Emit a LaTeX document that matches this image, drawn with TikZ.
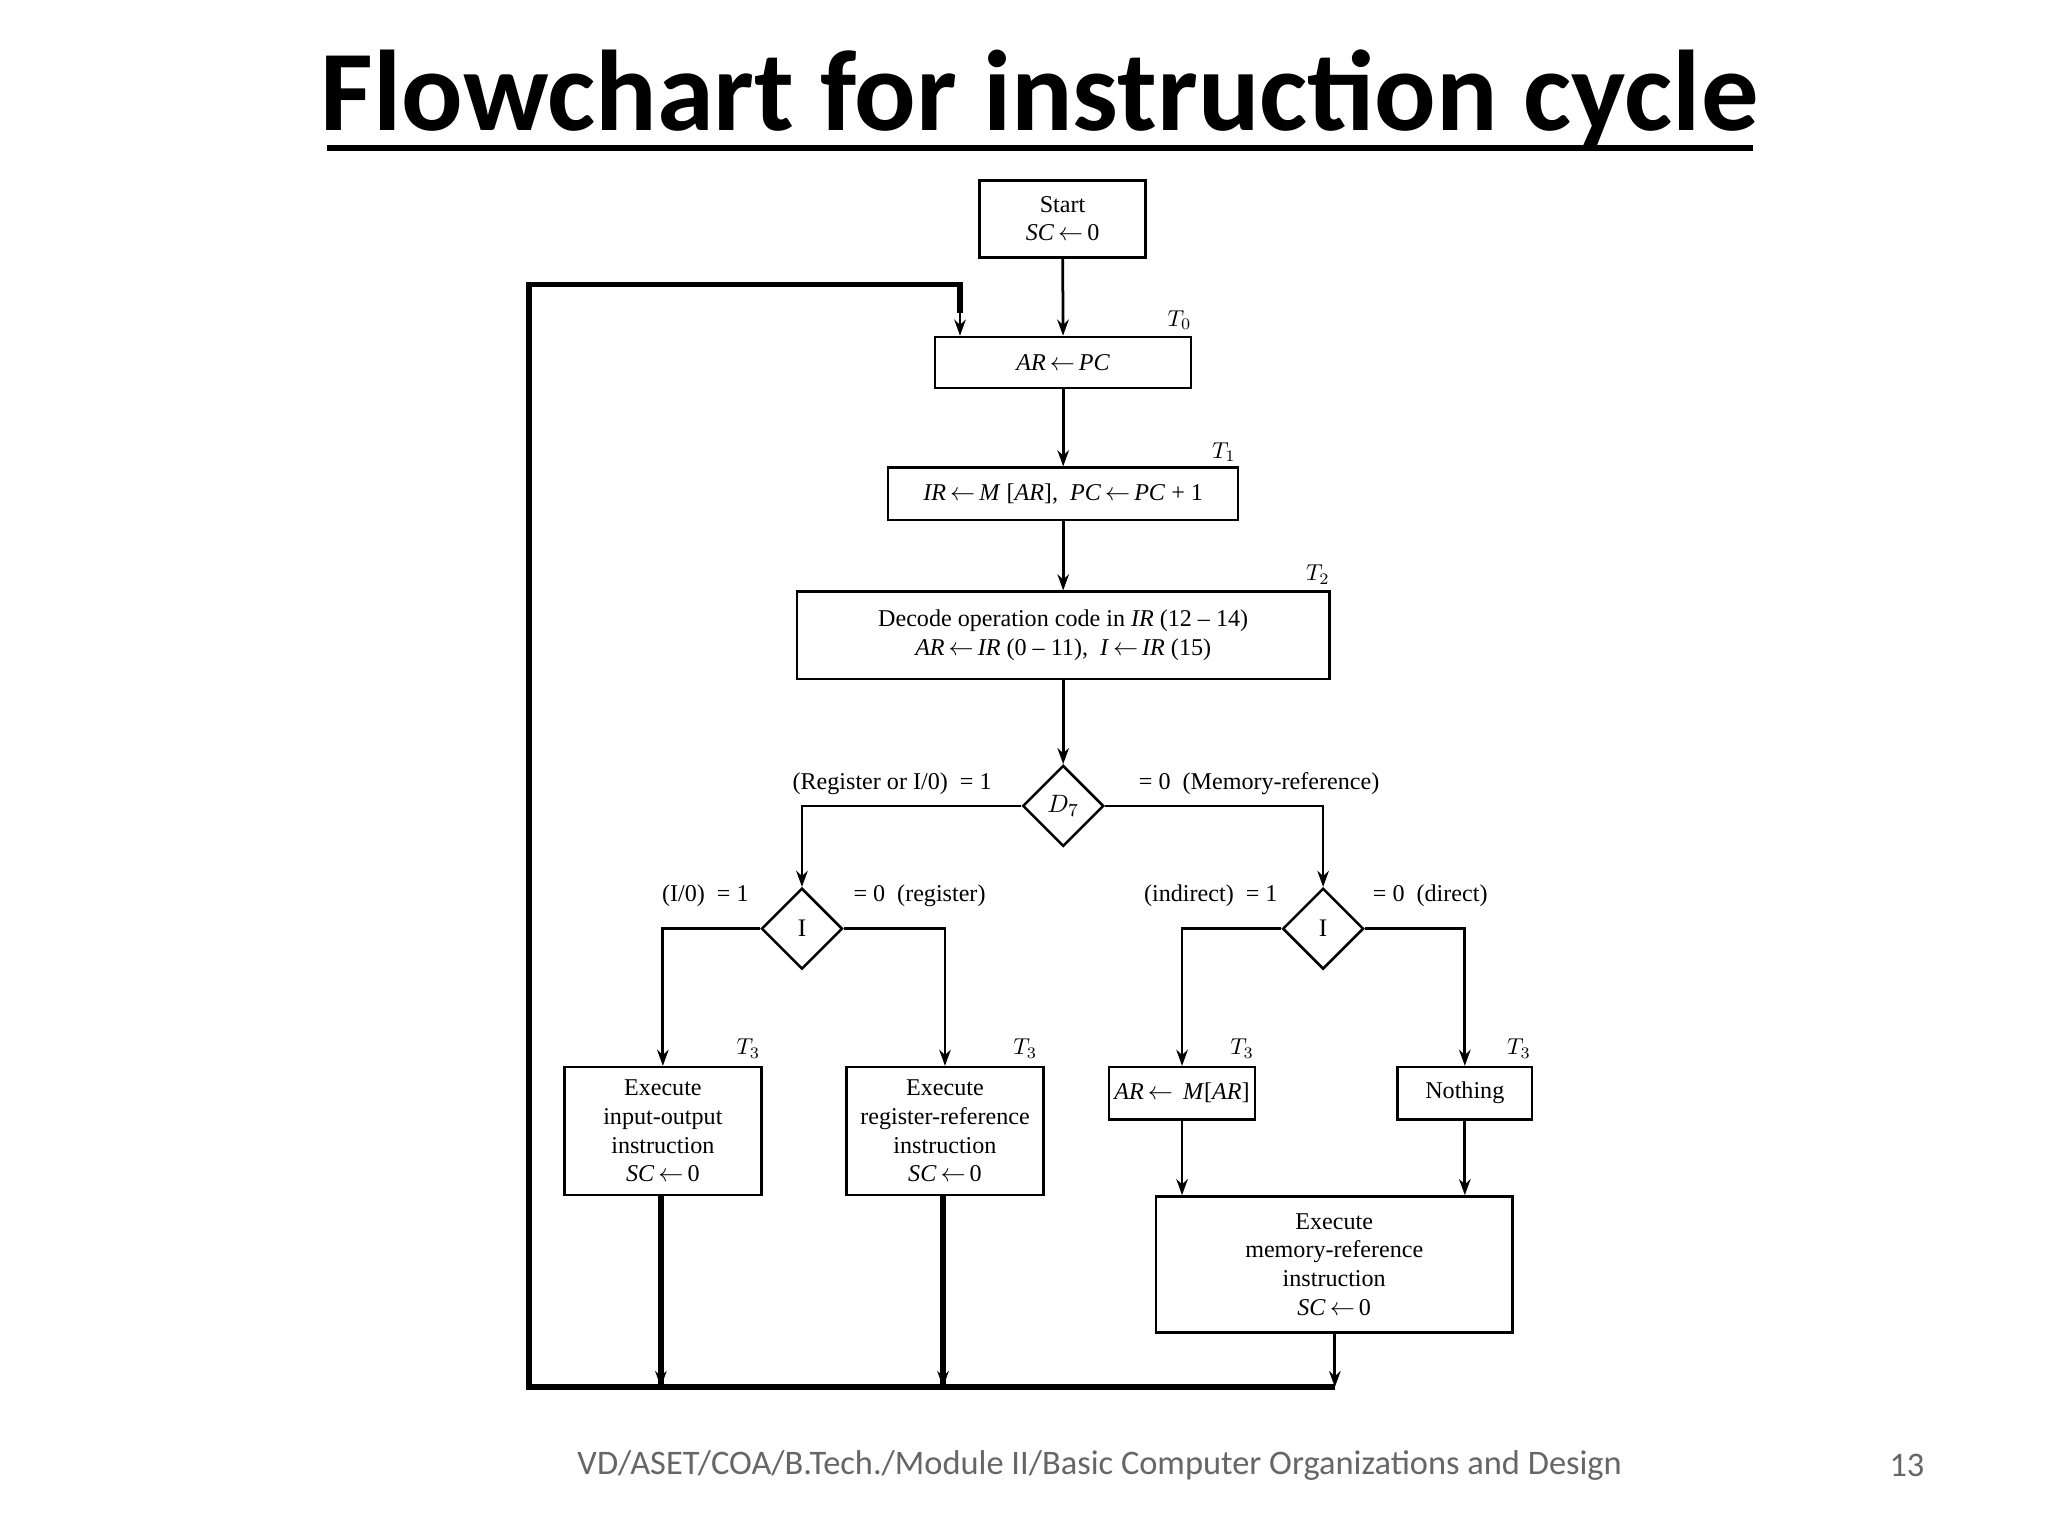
\documentclass[tikz,border=0pt]{standalone}
\usepackage{fontspec}
\setmainfont{Liberation Serif}
\newfontfamily\titlef{Carlito}
\usetikzlibrary{shapes.geometric,arrows.meta}
\newcommand\vr[1]{\textit{#1}}
\newcommand\la{\,$\leftarrow$\,}
\begin{document}
\begin{tikzpicture}[x=0.02cm,y=-0.02cm,
 box/.style={draw,line width=1.1pt,inner sep=0pt,align=center,font=\fontsize{10.5}{12.5}\selectfont},
 dia/.style={draw,line width=1.1pt,diamond,aspect=1,inner sep=0pt,minimum width=1.24cm,minimum height=1.24cm,font=\fontsize{11}{12}\selectfont},
 lab/.style={font=\fontsize{10.5}{12}\selectfont},
 tl/.style={font=\fontsize{10}{12}\selectfont\itshape},
 ar/.style={line width=1.2pt,-{Stealth[length=7pt,width=5pt]}},
 thk/.style={line width=2.4pt}]
\useasboundingbox (0,0) rectangle (1568,1176);
\node[font=\titlef\bfseries\fontsize{50}{54}\selectfont] (title) at (796,76) {Flowchart for instruction cycle};
\draw[line width=2.6pt] (250,113) -- (1342,113);
\node[box,minimum width=2.54cm,minimum height=1.18cm] (start) at (813.5,167.5) {Start\\ \vr{SC}\la 0};
\node[box,minimum width=3.92cm,minimum height=0.78cm] (ar) at (814,277.5) {\vr{AR}\la\vr{PC}};
\node[box,minimum width=5.36cm,minimum height=0.8cm] (ir) at (814,378) {\vr{IR}\la\vr{M} [\vr{AR}],\ \ \vr{PC}\la\vr{PC} + 1};
\node[box,minimum width=8.16cm,minimum height=1.34cm] (dec) at (814,486.5) {Decode operation code in \vr{IR} (12 -- 14)\\ \vr{AR}\la\vr{IR} (0 -- 11),\ \ \vr{I}\la\vr{IR} (15)};
\node[dia] (d7) at (814,617) {$D_7$};
\node[dia] (i1) at (614,711) {I};
\node[dia] (i2) at (1013,711) {I};
\node[box,minimum width=3.02cm,minimum height=1.96cm] (io) at (507.5,866) {Execute\\ input-output\\ instruction\\ \vr{SC}\la 0};
\node[box,minimum width=3.02cm,minimum height=1.96cm] (reg) at (723.5,866) {Execute\\ register-reference\\ instruction\\ \vr{SC}\la 0};
\node[box,minimum width=2.24cm,minimum height=0.8cm] (arm) at (905,837) {\vr{AR}\la\ \vr{M}[\vr{AR}]};
\node[box,minimum width=2.06cm,minimum height=0.8cm] (noth) at (1121.5,837) {Nothing};
\node[box,minimum width=5.46cm,minimum height=2.08cm] (mem) at (1021.5,968) {Execute\\ memory-reference\\ instruction\\ \vr{SC}\la 0};
\node[tl] (t0) at (903,245) {$T_0$};
\node[tl] (t1) at (937,346) {$T_1$};
\node[tl] (t2) at (1009,440) {$T_2$};
\node[tl] (t3a) at (573,803) {$T_3$};
\node[tl] (t3b) at (785,803) {$T_3$};
\node[tl] (t3c) at (951,803) {$T_3$};
\node[tl] (t3d) at (1163,803) {$T_3$};
\node[lab] (l1) at (683,600) {(Register or I/0)\ \ = 1};
\node[lab] (l2) at (964,600) {= 0\ \ (Memory-reference)};
\node[lab] (l3) at (540,686) {(I/0)\ \ = 1};
\node[lab] (l4) at (704,686) {= 0\ \ (register)};
\node[lab] (l5) at (927,686) {(indirect)\ \ = 1};
\node[lab] (l6) at (1095,686) {= 0\ \ (direct)};
\draw[ar] (start) -- (ar);
\draw[ar] (ar) -- (ir);
\draw[ar] (ir) -- (dec);
\draw[ar] (dec) -- (d7);
\draw[ar] (d7.west) -| (i1.north);
\draw[ar] (d7.east) -| (i2.north);
\draw[ar] (i1.west) -| (io.north);
\draw[ar] (i1.east) -| (reg.north);
\draw[ar] (i2.west) -| (arm.north);
\draw[ar] (i2.east) -| (noth.north);
\draw[ar] (arm.south) -- (arm.south |- mem.north);
\draw[ar] (noth.south) -- (noth.south |- mem.north);
\coordinate (bio) at (506,1062);
\coordinate (breg) at (722,1062);
\coordinate (bmem) at (1022,1062);
\coordinate (bl) at (405,1062);
\coordinate (tl) at (405,218);
\coordinate (tr) at (735,218);
\draw[thk] (io.south -| bio) -- (bio);
\draw[thk] (reg.south -| breg) -- (breg);
\draw[ar] (mem.south -| bmem) -- (bmem);
\draw[ar] (506,1040) -- (bio);
\draw[ar] (722,1040) -- (breg);
\draw[thk,line join=miter] (bmem) -- (bl) -- (tl) -- (tr) -- (735,240);
\draw[ar] (735,236) -- (ar.north -| tr);
\node[font=\titlef\fontsize{15}{17}\selectfont,text=black!60] (foot) at (842,1122) {VD/ASET/COA/B.Tech./Module II/Basic Computer Organizations and Design};
\node[font=\titlef\fontsize{15}{17}\selectfont,text=black!60] (pg) at (1460,1122) {13};
\end{tikzpicture}
\end{document}
